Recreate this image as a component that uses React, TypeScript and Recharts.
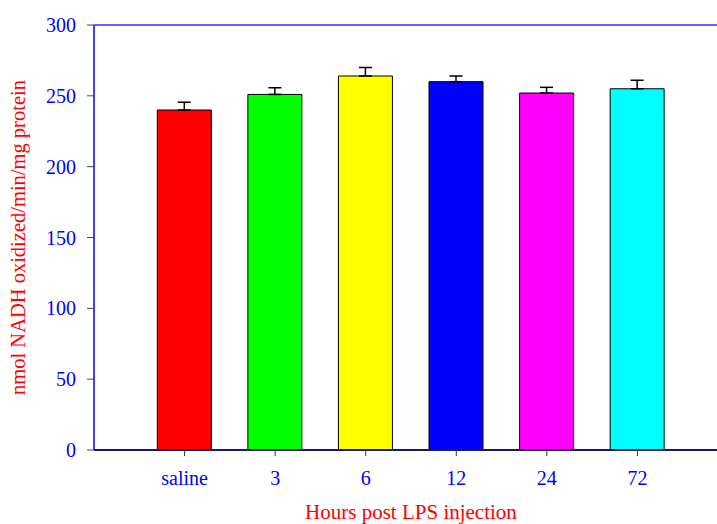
import React from 'react';
import { BarChart, Bar, XAxis, YAxis, ErrorBar, Cell, ReferenceLine, Label } from 'recharts';

const positions = [1, 2, 3, 4, 5, 6];
const groups = ['saline', '3', '6', '12', '24', '72'];
const activity = [240, 251, 264, 260, 252, 255];
const sem = [5.5, 4.7, 6, 4, 4, 6];
const colors = ['#ff0000', '#00ff00', '#ffff00', '#0000ff', '#ff00ff', '#00ffff'];
const yTicks = [0, 50, 100, 150, 200, 250, 300];

const data = positions.map((x, i) => ({
    x,
    name: groups[i],
    value: activity[i],
    err: [0, sem[i]],
}));

const font = '"Liberation Serif", "Times New Roman", serif';

const YLabel = (props: any) => {
    const vb = props.viewBox || { x: 0, y: 25, width: 94, height: 425 };
    const cx = 18;
    const cy = vb.y + vb.height / 2;
    return (
        <text
            x={cx}
            y={cy}
            transform={`rotate(-90, ${cx}, ${cy})`}
            textAnchor="middle"
            dominantBaseline="central"
            fill="#ff0000"
            fontSize={20.5}
            fontFamily={font}
        >
            nmol NADH oxidized/min/mg protein
        </text>
    );
};

export default function App() {
    return (
        <div style={{ position: 'absolute', left: 0, top: 0, width: 717, height: 524, overflow: 'hidden', background: '#fff' }}>
            <BarChart width={728} height={524} data={data} margin={{ top: 25, right: 0, left: 0, bottom: 0 }}>
                <XAxis
                    dataKey="x"
                    type="number"
                    domain={[0, 7]}
                    ticks={positions}
                    tickFormatter={(v: number) => groups[v - 1]}
                    height={74}
                    axisLine={{ stroke: '#1a1a5e', strokeWidth: 2 }}
                    tickLine={{ stroke: '#333' }}
                    tickSize={6}
                    tickMargin={15}
                    tick={{ fill: '#0000ff', fontSize: 20, fontFamily: font }}
                >
                    <Label
                        value="Hours post LPS injection"
                        position="insideBottom"
                        offset={5}
                        fill="#ff0000"
                        fontSize={21}
                        fontFamily={font}
                    />
                </XAxis>
                <YAxis
                    domain={[0, 300]}
                    ticks={yTicks}
                    width={94}
                    axisLine={{ stroke: '#0000ff', strokeWidth: 1.5 }}
                    tickLine={{ stroke: '#444' }}
                    tickSize={7}
                    tickMargin={11}
                    tick={{ fill: '#0000ff', fontSize: 20, fontFamily: font }}
                    label={<YLabel />}
                />
                <ReferenceLine y={300} stroke="#6666ff" strokeWidth={2} />
                <Bar dataKey="value" barSize={54} stroke="#000" strokeWidth={1} isAnimationActive={false}>
                    {data.map((d, i) => (
                        <Cell key={d.name} fill={colors[i]} />
                    ))}
                    <ErrorBar dataKey="err" width={6.5} stroke="#000" strokeWidth={1.5} direction="y" />
                </Bar>
            </BarChart>
        </div>
    );
}
